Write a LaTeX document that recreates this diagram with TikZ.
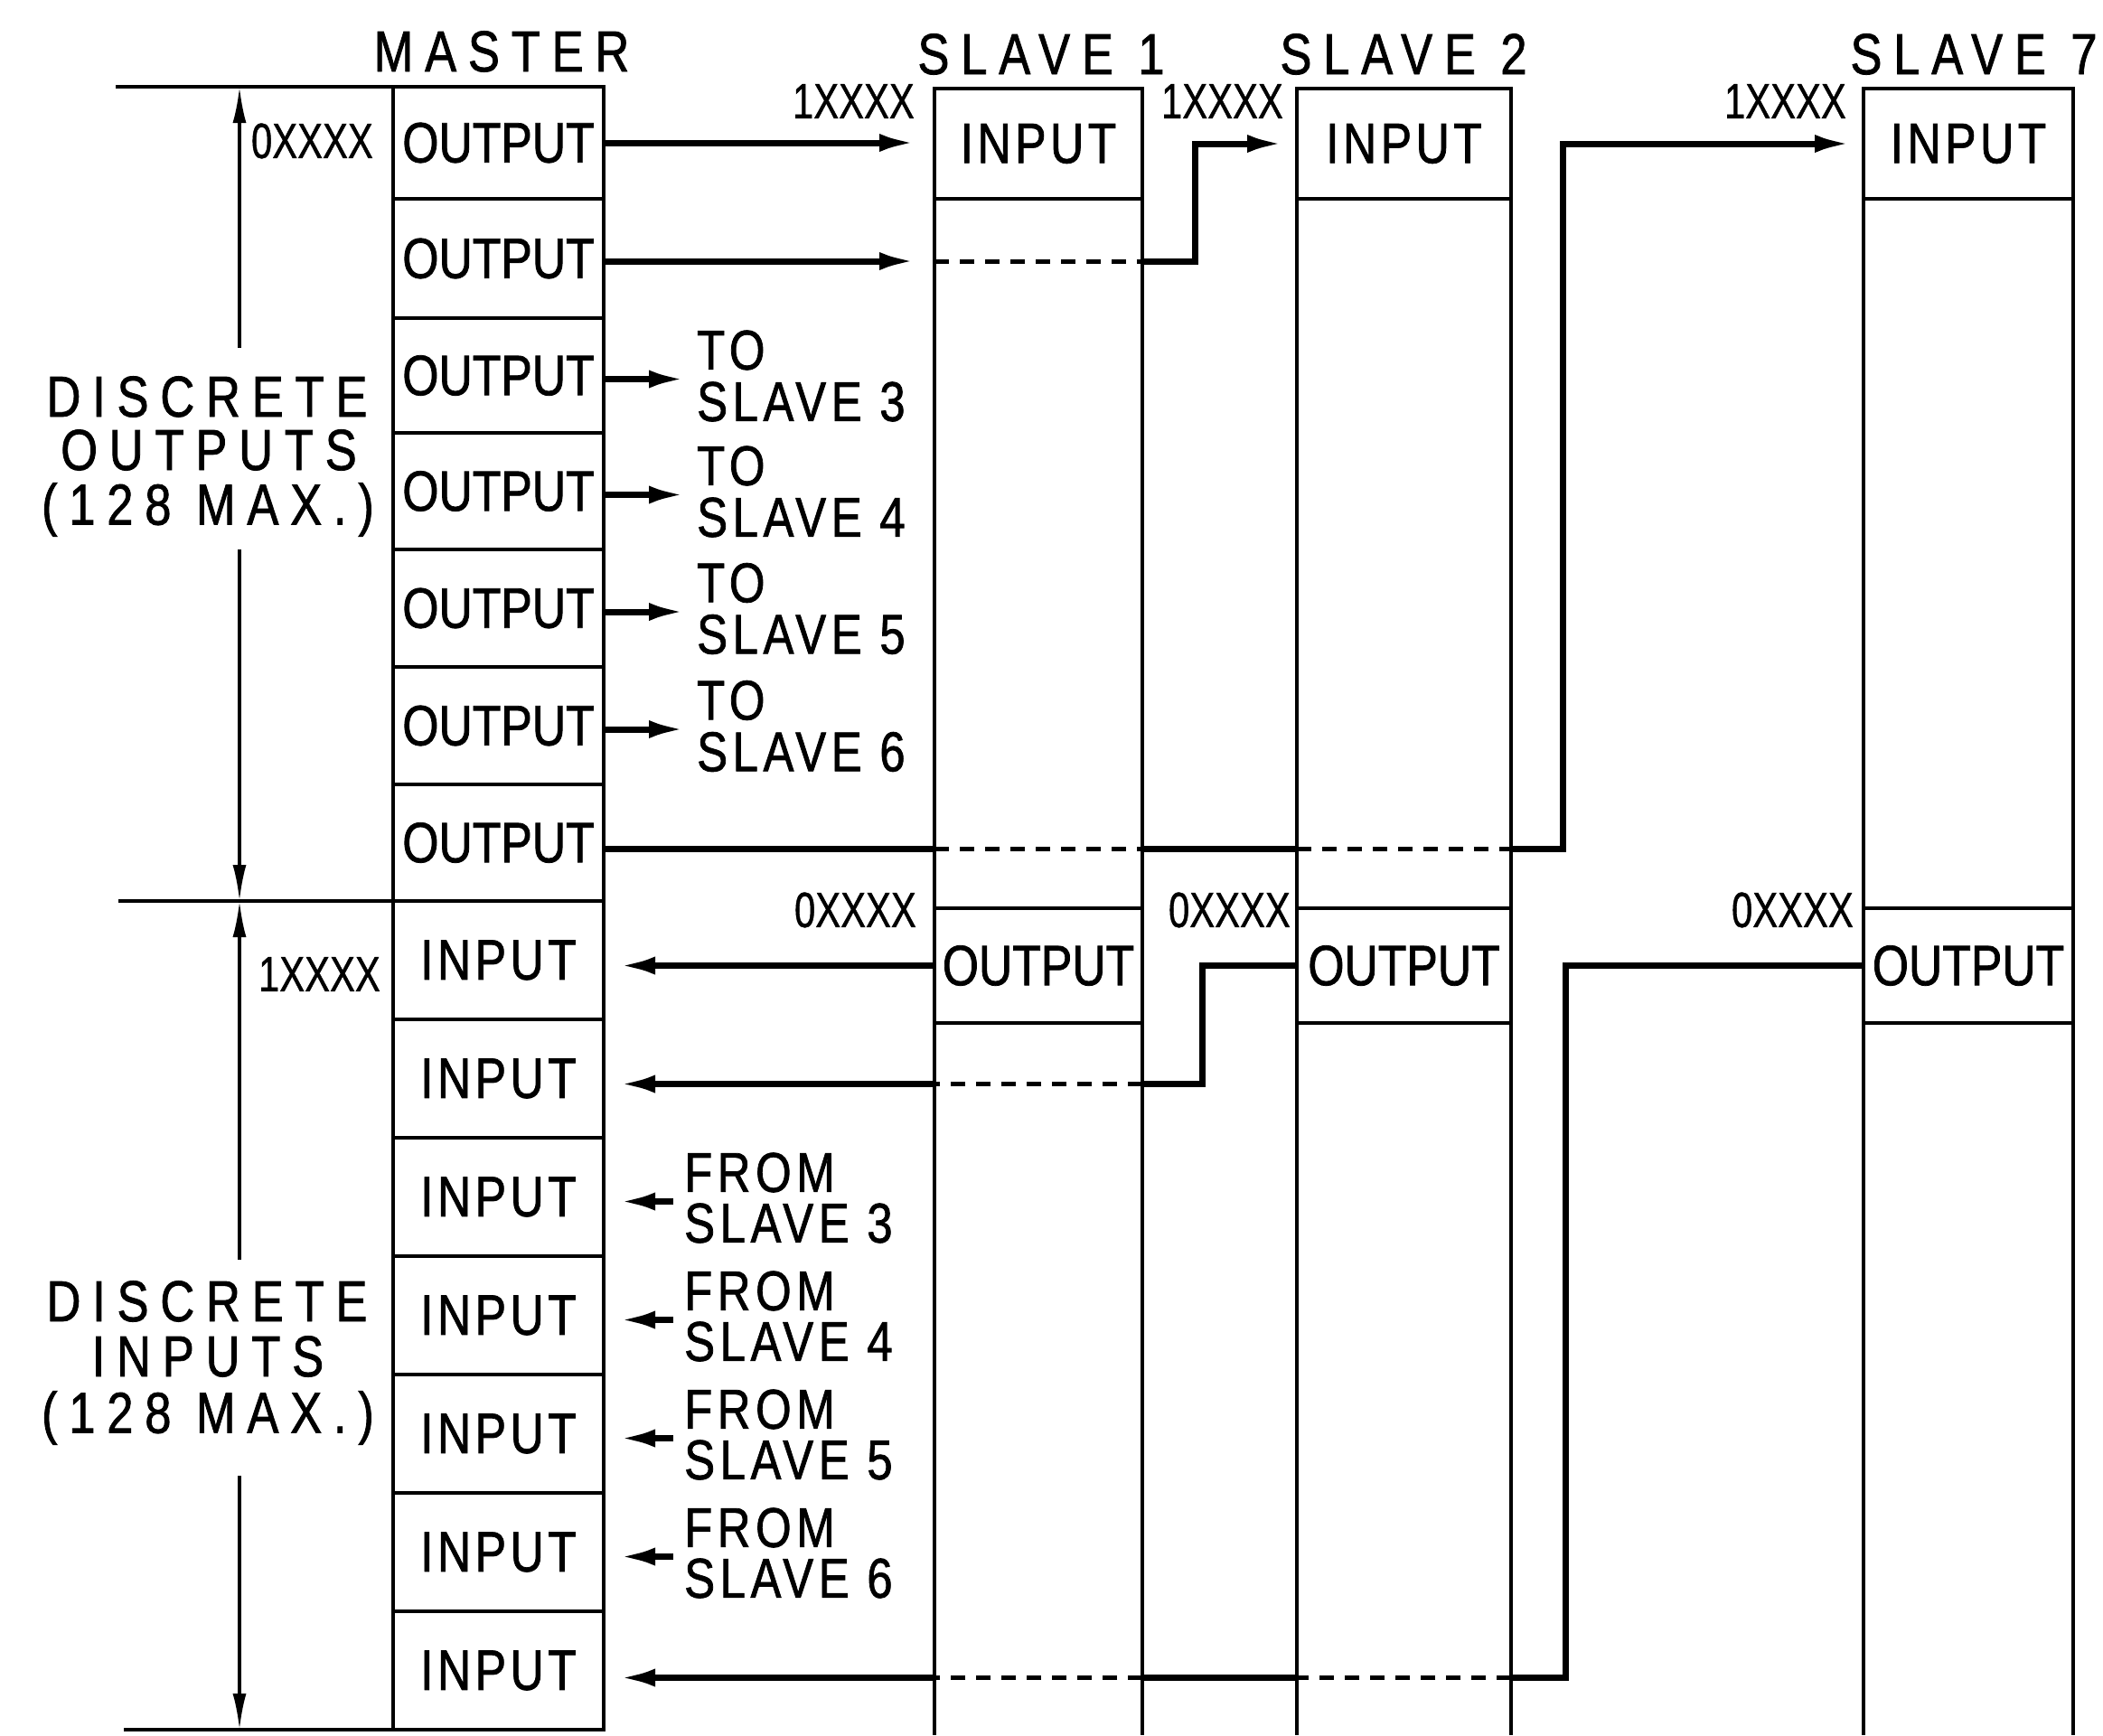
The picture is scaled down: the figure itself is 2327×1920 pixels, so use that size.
\documentclass[tikz,border=0pt]{standalone}
\usepackage{fontspec}
\setmainfont{Liberation Sans}
\newfontfamily\cf[FakeStretch=0.82,FakeBold=1.2]{Liberation Sans}
\newfontfamily\cfi[FakeStretch=0.82,FakeBold=1.2,LetterSpace=7]{Liberation Sans}
\newfontfamily\cfw[FakeStretch=0.82,FakeBold=1.2,LetterSpace=20]{Liberation Sans}
\newfontfamily\cfm[FakeStretch=0.82,FakeBold=1.2,LetterSpace=9]{Liberation Sans}
\newfontfamily\cfa[FakeStretch=0.76,FakeBold=0.8]{Liberation Sans}
\usetikzlibrary{arrows.meta}
\tikzset{
  arr/.tip={Latex[length=40pt,width=20pt]},
  arrd/.tip={Latex[length=40pt,width=15pt]},
  rowbox/.style={draw,line width=4pt,minimum width=233pt,inner sep=0pt,outer sep=0pt,font=\cf\fontsize{63pt}{63pt}\selectfont},
  rowin/.style={rowbox,font=\cfi\fontsize{63pt}{63pt}\selectfont},
  slbox/.style={draw,line width=4pt,inner sep=0pt,outer sep=0pt,font=\cf\fontsize{63pt}{63pt}\selectfont},
  slin/.style={slbox,font=\cfi\fontsize{63pt}{63pt}\selectfont},
  colline/.style={line width=4pt},
  conn/.style={line width=7pt},
  passline/.style={line width=5pt,dash pattern=on 16pt off 12pt},
  dimline/.style={line width=3.5pt},
  extline/.style={line width=4pt},
  ttl/.style={inner sep=0pt,font=\cfw\fontsize{64pt}{64pt}\selectfont},
  lbl/.style={inner sep=0pt,font=\cfm\fontsize{62pt}{62pt}\selectfont,anchor=west},
  addr/.style={inner sep=0pt,font=\cfa\fontsize{55pt}{55pt}\selectfont,anchor=east},
}
\begin{document}
\begin{tikzpicture}[x=1pt,y=-1pt]
\useasboundingbox (0,0) rectangle (2327,1920);
\coordinate (bot) at (0,1920);
% ---------- master column ----------
\node[rowbox,minimum height=124pt] (m1) at (551.5,158) {OUTPUT};
\node[rowbox,minimum height=132pt] (m2) at (551.5,286) {OUTPUT};
\node[rowbox,minimum height=127pt] (m3) at (551.5,415.5) {OUTPUT};
\node[rowbox,minimum height=129pt] (m4) at (551.5,543.5) {OUTPUT};
\node[rowbox,minimum height=130pt] (m5) at (551.5,673) {OUTPUT};
\node[rowbox,minimum height=130pt] (m6) at (551.5,803) {OUTPUT};
\node[rowbox,minimum height=129pt] (m7) at (551.5,932.5) {OUTPUT};
\node[rowin,minimum height=131pt] (n1) at (551.5,1062.5) {INPUT};
\node[rowin,minimum height=131pt] (n2) at (551.5,1193.5) {INPUT};
\node[rowin,minimum height=131pt] (n3) at (551.5,1324.5) {INPUT};
\node[rowin,minimum height=131pt] (n4) at (551.5,1455.5) {INPUT};
\node[rowin,minimum height=131pt] (n5) at (551.5,1586.5) {INPUT};
\node[rowin,minimum height=131pt] (n6) at (551.5,1717.5) {INPUT};
\node[rowin,minimum height=131pt] (n7) at (551.5,1848.5) {INPUT};
\node[ttl] (tm) at (555,57) {MASTER};
% ---------- slave columns ----------
\node[slin,minimum width=230pt,minimum height=122pt] (s1in) at (1149,159) {INPUT};
\node[slbox,minimum width=230pt,minimum height=127pt] (s1out) at (1149,1068.5) {OUTPUT};
\node[slin,minimum width=237pt,minimum height=122pt] (s2in) at (1553.5,159) {INPUT};
\node[slbox,minimum width=237pt,minimum height=127pt] (s2out) at (1553.5,1068.5) {OUTPUT};
\node[slin,minimum width=232pt,minimum height=122pt] (s7in) at (2178,159) {INPUT};
\node[slbox,minimum width=232pt,minimum height=127pt] (s7out) at (2178,1068.5) {OUTPUT};
\foreach \s in {s1in,s2in,s7in}{
  \draw[colline] (\s.north west) -- (\s.north west |- bot);
  \draw[colline] (\s.north east) -- (\s.north east |- bot);
}
\node[ttl] (t1) at (1152,60) {SLAVE 1};
\node[ttl] (t2) at (1553,60) {SLAVE 2};
\node[ttl] (t7) at (2184,60) {SLAVE 7};
% ---------- address labels ----------
\node[addr] (a0m) at (413,156) {0XXXX};
\node[addr] (a1m) at (421,1078) {1XXXX};
\node[addr] (a1s1) at (1012,112) {1XXXX};
\node[addr] (a1s2) at (1420,112) {1XXXX};
\node[addr] (a1s7) at (2043,112) {1XXXX};
\node[addr] (a0s1) at (1014,1007) {0XXXX};
\node[addr] (a0s2) at (1428,1007) {0XXXX};
\node[addr] (a0s7) at (2051,1007) {0XXXX};
% ---------- dimension ----------
\coordinate (e0) at (128,96);
\coordinate (e1) at (131,997);
\coordinate (e2) at (137,1914);
\draw[extline] (e0) -- (m1.north west);
\draw[extline] (e1) -- (m7.south west);
\draw[extline] (e2) -- (n7.south west);
\coordinate (d0) at (265,96);
\coordinate (d1) at (265,385);
\coordinate (d2) at (265,608);
\coordinate (d3) at (265,997);
\coordinate (d4) at (265,1394);
\coordinate (d5) at (265,1633);
\coordinate (d6) at (265,1914);
\draw[dimline,{arrd}-] (d0) -- (d1);
\draw[dimline,-{arrd}] (d2) -- (d3);
\draw[dimline,{arrd}-] (d3) -- (d4);
\draw[dimline,-{arrd}] (d5) -- (d6);
\node[ttl] (do1) at (229,439) {DISCRETE};
\node[ttl] (do2) at (231,498) {OUTPUTS};
\node[ttl] (do3) at (230,564) {(128 MAX.)};
\node[ttl] (di1) at (229,1440) {DISCRETE};
\node[ttl] (di2) at (230,1501) {INPUTS};
\node[ttl] (di3) at (230,1569) {(128 MAX.)};
% ---------- output connectors ----------
\coordinate (j2) at (1322,0);
\coordinate (j7) at (1729,0);
\coordinate (k2) at (1330,0);
\coordinate (k7) at (1732,0);
\draw[conn,-{arr},shorten >=21pt] (m1.east) -- (m1.east -| s1in.west);
\coordinate (o2) at ([yshift=-3pt]m2.east);
\draw[conn,-{arr},shorten >=21pt] (o2) -- (o2 -| s1in.west);
\draw[passline] (o2 -| s1in.west) -- (o2 -| s1in.east);
\draw[conn,-{arr},shorten >=15pt] (o2 -| s1in.east) -- (o2 -| j2) -- (j2 |- s2in.west) -- (s2in.west);
\coordinate (o7) at ([yshift=-7pt]m7.east);
\draw[conn] (o7) -- (o7 -| s1in.west);
\draw[passline] (o7 -| s1in.west) -- (o7 -| s1in.east);
\draw[conn] (o7 -| s1in.east) -- (o7 -| s2in.west);
\draw[passline] (o7 -| s2in.west) -- (o7 -| s2in.east);
\draw[conn,-{arr},shorten >=14pt] (o7 -| s2in.east) -- (o7 -| j7) -- (j7 |- s7in.west) -- (s7in.west);
% short output arrows
\foreach \r/\n/\t in {m3/3/415.5,m4/4/543.5,m5/5/673,m6/6/803}{
  \coordinate (ta\n) at (758,\t+4);
  \draw[conn,-{arr}] (ta\n -| \r.east) -- (ta\n);
  \node[lbl] (to\n) at (771,\t-28) {TO};
  \node[lbl] (ts\n) at (771,\t+29) {SLAVE \n};
}
% ---------- input connectors ----------
\draw[conn,-{arr},shorten >=17pt] (s1out.west) -- (s1out.west -| n1.east);
\coordinate (i2) at ([yshift=-6pt]n2.east);
\draw[conn] (s2out.west) -- (s2out.west -| k2) -- (k2 |- i2) -- (i2 -| s1out.east);
\draw[passline] (i2 -| s1out.east) -- (i2 -| s1out.west);
\draw[conn,-{arr},shorten >=17pt] (i2 -| s1out.west) -- (i2);
\coordinate (i7) at ([yshift=-8pt]n7.east);
\draw[conn] (s7out.west) -- (s7out.west -| k7) -- (k7 |- i7) -- (i7 -| s2out.east);
\draw[passline] (i7 -| s2out.east) -- (i7 -| s2out.west);
\draw[conn] (i7 -| s2out.west) -- (i7 -| s1out.east);
\draw[passline] (i7 -| s1out.east) -- (i7 -| s1out.west);
\draw[conn,-{arr},shorten >=17pt] (i7 -| s1out.west) -- (i7);
% short input arrows
\foreach \r/\n/\t in {n3/3/1324.5,n4/4/1455.5,n5/5/1586.5,n6/6/1717.5}{
  \coordinate (fa\n) at (745,\t+5);
  \draw[conn,-{arr},shorten >=17pt] (fa\n) -- (fa\n -| \r.east);
  \node[lbl] (fr\n) at (757,\t-27) {FROM};
  \node[lbl] (fs\n) at (757,\t+29) {SLAVE \n};
}
\end{tikzpicture}
\end{document}
